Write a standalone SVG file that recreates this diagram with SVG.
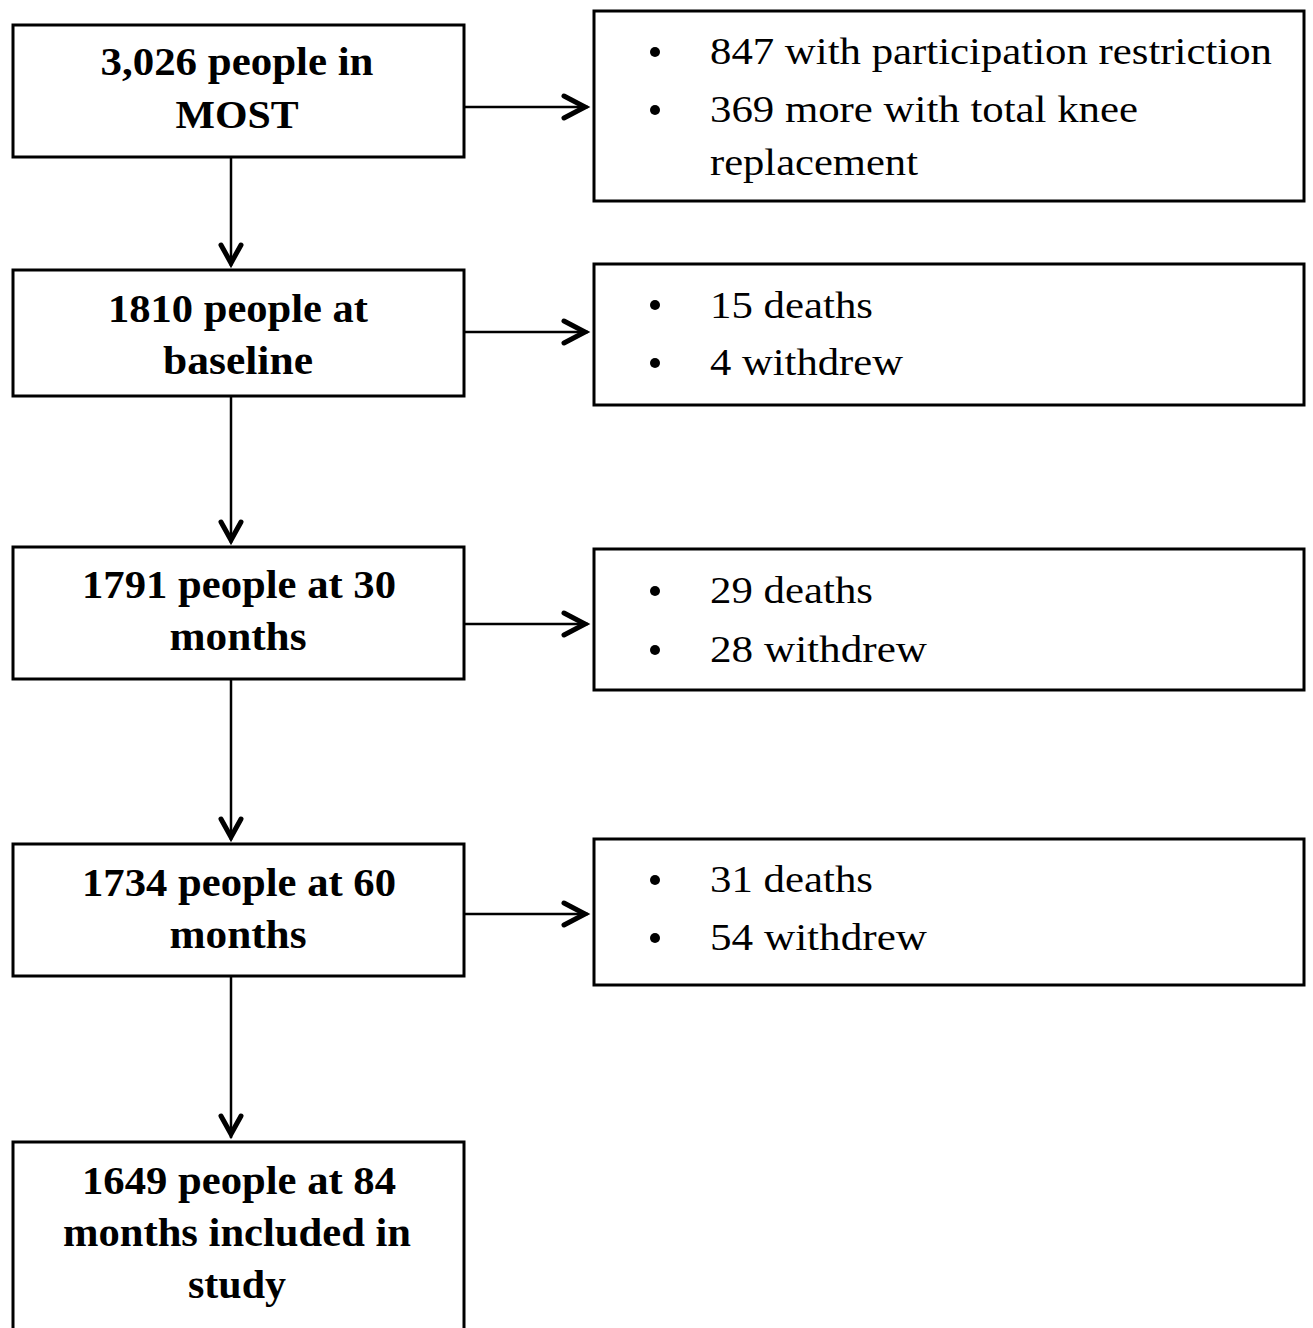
<svg xmlns="http://www.w3.org/2000/svg" width="1313" height="1328" viewBox="0 0 1313 1328">
<style>
.box{fill:#fff;stroke:#000;stroke-width:3}
.b{font-family:"Liberation Serif","Times New Roman",serif;font-weight:bold;font-size:39px;text-anchor:middle;fill:#000}
.r{font-family:"Liberation Serif","Times New Roman",serif;font-size:38px;fill:#000}
.ln{stroke:#000;stroke-width:2.5;fill:none}
.hd{stroke:#000;stroke-width:5;fill:none;stroke-linecap:round;stroke-linejoin:miter}
</style>
<rect width="1313" height="1328" fill="#fff"/>
<g id="connectors">
<line class="ln" x1="231" y1="158" x2="231" y2="266"/><path class="hd" d="M221,245 L231,263 L241,245"/>
<line class="ln" x1="231" y1="397" x2="231" y2="543"/><path class="hd" d="M221,522 L231,540 L241,522"/>
<line class="ln" x1="231" y1="680" x2="231" y2="840"/><path class="hd" d="M221,819 L231,837 L241,819"/>
<line class="ln" x1="231" y1="977" x2="231" y2="1138"/><path class="hd" d="M221,1116 L231,1134 L241,1116"/>
<line class="ln" x1="465" y1="107" x2="588" y2="107"/><path class="hd" d="M564,96 L585,107 L564,118"/>
<line class="ln" x1="465" y1="332" x2="588" y2="332"/><path class="hd" d="M564,321 L585,332 L564,343"/>
<line class="ln" x1="465" y1="624" x2="588" y2="624"/><path class="hd" d="M564,613 L585,624 L564,635"/>
<line class="ln" x1="465" y1="914" x2="588" y2="914"/><path class="hd" d="M564,903 L585,914 L564,925"/>
</g>
<g id="n1"><rect class="box" x="13" y="25" width="451" height="132"/>
<text class="b" x="237" y="75" textLength="273" lengthAdjust="spacingAndGlyphs">3,026 people in</text><text class="b" x="237" y="128" textLength="123" lengthAdjust="spacingAndGlyphs">MOST</text></g>
<g id="n2"><rect class="box" x="13" y="270" width="451" height="126"/>
<text class="b" x="238" y="322" textLength="260" lengthAdjust="spacingAndGlyphs">1810 people at</text><text class="b" x="238" y="374" textLength="150" lengthAdjust="spacingAndGlyphs">baseline</text></g>
<g id="n3"><rect class="box" x="13" y="547" width="451" height="132"/>
<text class="b" x="239" y="598" textLength="314" lengthAdjust="spacingAndGlyphs">1791 people at 30</text><text class="b" x="238" y="650" textLength="137" lengthAdjust="spacingAndGlyphs">months</text></g>
<g id="n4"><rect class="box" x="13" y="844" width="451" height="132"/>
<text class="b" x="239" y="896" textLength="314" lengthAdjust="spacingAndGlyphs">1734 people at 60</text><text class="b" x="238" y="948" textLength="137" lengthAdjust="spacingAndGlyphs">months</text></g>
<g id="n5"><rect class="box" x="13" y="1142" width="451" height="200"/>
<text class="b" x="239" y="1194" textLength="314" lengthAdjust="spacingAndGlyphs">1649 people at 84</text><text class="b" x="237" y="1246" textLength="348" lengthAdjust="spacingAndGlyphs">months included in</text><text class="b" x="237" y="1298" textLength="98" lengthAdjust="spacingAndGlyphs">study</text></g>
<g id="r1"><rect class="box" x="594" y="11" width="710" height="190"/>
<circle cx="655" cy="52" r="5"/><circle cx="655" cy="110" r="5"/>
<text class="r" x="710" y="64" textLength="562" lengthAdjust="spacingAndGlyphs">847 with participation restriction</text>
<text class="r" x="710" y="122" textLength="428" lengthAdjust="spacingAndGlyphs">369 more with total knee</text>
<text class="r" x="710" y="175" textLength="208" lengthAdjust="spacingAndGlyphs">replacement</text></g>
<g id="r2"><rect class="box" x="594" y="264" width="710" height="141"/>
<circle cx="655" cy="305" r="5"/><circle cx="655" cy="363" r="5"/>
<text class="r" x="710" y="318" textLength="163" lengthAdjust="spacingAndGlyphs">15 deaths</text><text class="r" x="710" y="375" textLength="193" lengthAdjust="spacingAndGlyphs">4 withdrew</text></g>
<g id="r3"><rect class="box" x="594" y="549" width="710" height="141"/>
<circle cx="655" cy="591" r="5"/><circle cx="655" cy="650" r="5"/>
<text class="r" x="710" y="603" textLength="163" lengthAdjust="spacingAndGlyphs">29 deaths</text><text class="r" x="710" y="662" textLength="217" lengthAdjust="spacingAndGlyphs">28 withdrew</text></g>
<g id="r4"><rect class="box" x="594" y="839" width="710" height="146"/>
<circle cx="655" cy="880" r="5"/><circle cx="655" cy="938" r="5"/>
<text class="r" x="710" y="892" textLength="163" lengthAdjust="spacingAndGlyphs">31 deaths</text><text class="r" x="710" y="950" textLength="217" lengthAdjust="spacingAndGlyphs">54 withdrew</text></g>
</svg>
